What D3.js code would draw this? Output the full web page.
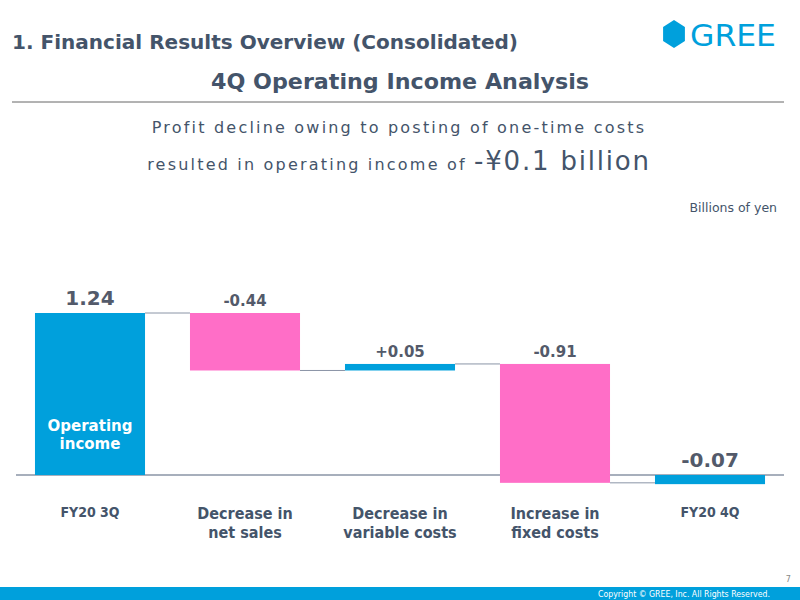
<!DOCTYPE html>
<html>
<head>
<meta charset="utf-8">
<script src="https://cdn.jsdelivr.net/npm/d3@7"></script>
<style>
  body { margin: 0; background: #fff; }
  svg { display: block; }
</style>
</head>
<body>
<svg id="chart" width="800" height="600"></svg>
<script>
// ===== Chart data =====
var categories = ["FY20 3Q", "Decrease in\nnet sales", "Decrease in\nvariable costs", "Increase in\nfixed costs", "FY20 4Q"];
var values = [1.24, -0.44, 0.05, -0.91, -0.07];
var kinds = ["total", "delta", "delta", "delta", "total"];
var valueLabels = ["1.24", "-0.44", "+0.05", "-0.91", "-0.07"];
// ======================

var textColor = "#44546a";
var blue = "#00a0dc";
var pink = "#ff6ec7";

var svg = d3.select("#chart");

// Header
svg.append("text")
  .attr("x", 12).attr("y", 49)
  .attr("font-family", "DejaVu Sans")
  .attr("font-weight", "bold").attr("font-size", 20)
  .attr("fill", textColor)
  .attr("textLength", 506).attr("lengthAdjust", "spacingAndGlyphs")
  .text("1. Financial Results Overview (Consolidated)");

svg.append("text")
  .attr("x", 400).attr("y", 89)
  .attr("text-anchor", "middle")
  .attr("font-family", "DejaVu Sans")
  .attr("font-weight", "bold").attr("font-size", 22)
  .attr("fill", textColor)
  .attr("textLength", 378).attr("lengthAdjust", "spacingAndGlyphs")
  .text("4Q Operating Income Analysis");

svg.append("line")
  .attr("x1", 12).attr("x2", 784).attr("y1", 102).attr("y2", 102)
  .attr("stroke", "#666").attr("stroke-width", 1);

// GREE logo
var hx = 674, hy = 34, hr = 14;
var hex = d3.range(6).map(function(i) {
  var a = Math.PI / 3 * i - Math.PI / 2;
  return [hx + hr * 0.9 * Math.cos(a), hy + hr * Math.sin(a)];
});
svg.append("polygon")
  .attr("points", hex.map(function(p) { return p.join(","); }).join(" "))
  .attr("fill", blue);
svg.append("text")
  .attr("x", 690).attr("y", 46)
  .attr("font-family", "DejaVu Sans Condensed, DejaVu Sans")
  .attr("font-size", 30).attr("fill", blue)
  .attr("textLength", 86).attr("lengthAdjust", "spacingAndGlyphs")
  .text("GREE");

// Subtitle
svg.append("text")
  .attr("x", 399).attr("y", 133)
  .attr("text-anchor", "middle")
  .attr("font-family", "DejaVu Sans")
  .attr("font-size", 16).attr("letter-spacing", 2.2)
  .attr("fill", textColor)
  .text("Profit decline owing to posting of one-time costs");

var sub2 = svg.append("text")
  .attr("x", 399).attr("y", 170)
  .attr("text-anchor", "middle")
  .attr("font-family", "DejaVu Sans")
  .attr("fill", textColor);
sub2.append("tspan").attr("font-size", 16).attr("letter-spacing", 2.2)
  .text("resulted in operating income of ");
sub2.append("tspan").attr("font-size", 26).attr("letter-spacing", 1.8)
  .text("-¥0.1 billion");

svg.append("text")
  .attr("x", 777).attr("y", 212)
  .attr("text-anchor", "end")
  .attr("font-family", "DejaVu Sans")
  .attr("font-size", 12.5).attr("fill", textColor)
  .text("Billions of yen");

// Scales
var x = d3.scaleBand()
  .domain(categories)
  .range([12.5, 787.5])
  .paddingInner(0.29)
  .paddingOuter(0.145);

var y = d3.scaleLinear()
  .domain([0, 1.24])
  .range([475, 313]);

// Waterfall steps
var bars = [];
var cum = 0;
for (var i = 0; i < values.length; i++)
{
  var start, end;
  if (kinds[i] == "total")
  {
    start = 0;
    end = values[i];
    if (i == 0) cum = values[i];
  }
  else
  {
    start = cum;
    end = cum + values[i];
    cum = end;
  }
  bars.push({ cat: categories[i], start: start, end: end, v: values[i],
              label: valueLabels[i], kind: kinds[i] });
}

// Baseline
svg.append("line")
  .attr("x1", 16).attr("x2", 784)
  .attr("y1", y(0)).attr("y2", y(0))
  .attr("stroke", "#8a94a6").attr("stroke-width", 1.5);

// Connectors
for (var i = 0; i < bars.length - 1; i++)
{
  var lvl = bars[i].end;
  svg.append("line")
    .attr("x1", x(bars[i].cat) + x.bandwidth())
    .attr("x2", x(bars[i + 1].cat))
    .attr("y1", y(lvl)).attr("y2", y(lvl))
    .attr("stroke", "#8a94a6").attr("stroke-width", 1);
}

// Bars
svg.selectAll("rect.bar")
  .data(bars)
  .enter().append("rect")
  .attr("class", "bar")
  .attr("x", function(d) { return x(d.cat); })
  .attr("width", x.bandwidth())
  .attr("y", function(d) { return y(Math.max(d.start, d.end)); })
  .attr("height", function(d) { return Math.abs(y(d.start) - y(d.end)); })
  .attr("fill", function(d) { return d.kind == "total" || d.v > 0 ? blue : pink; });

// Value labels
svg.selectAll("text.val")
  .data(bars)
  .enter().append("text")
  .attr("class", "val")
  .attr("x", function(d) { return x(d.cat) + x.bandwidth() / 2; })
  .attr("y", function(d) { return y(Math.max(d.start, d.end)) - (d.kind == "total" ? 8 : 7); })
  .attr("text-anchor", "middle")
  .attr("font-family", "DejaVu Sans")
  .attr("font-weight", "bold")
  .attr("font-size", function(d) { return d.kind == "total" ? 20 : 15; })
  .attr("fill", "#535a6a")
  .text(function(d) { return d.label; });

// Label inside first bar
var cx0 = x(categories[0]) + x.bandwidth() / 2;
var inner = svg.append("text")
  .attr("text-anchor", "middle")
  .attr("font-family", "DejaVu Sans")
  .attr("font-weight", "bold").attr("font-size", 15)
  .attr("fill", "#fff");
inner.append("tspan").attr("x", cx0).attr("y", 431).text("Operating");
inner.append("tspan").attr("x", cx0).attr("y", 449).text("income");

// Category labels
categories.forEach(function(c, i) {
  var lines = c.split("\n");
  var t = svg.append("text")
    .attr("text-anchor", "middle")
    .attr("font-family", "DejaVu Sans Condensed, DejaVu Sans")
    .attr("font-weight", "bold")
    .attr("font-size", kinds[i] == "total" ? 14 : 16)
    .attr("fill", textColor);
  lines.forEach(function(l, j) {
    t.append("tspan")
      .attr("x", x(c) + x.bandwidth() / 2)
      .attr("y", (kinds[i] == "total" ? 517 : 519) + j * 19)
      .text(l);
  });
});

// Footer
svg.append("text")
  .attr("x", 791).attr("y", 582)
  .attr("text-anchor", "end")
  .attr("font-family", "DejaVu Sans Condensed, DejaVu Sans")
  .attr("font-size", 9).attr("fill", "#888")
  .text("7");

svg.append("rect")
  .attr("x", 0).attr("y", 587).attr("width", 800).attr("height", 13)
  .attr("fill", blue);

svg.append("text")
  .attr("x", 770).attr("y", 597)
  .attr("text-anchor", "end")
  .attr("font-family", "DejaVu Sans Condensed, DejaVu Sans")
  .attr("font-size", 8.7).attr("fill", "#fff")
  .text("Copyright © GREE, Inc. All Rights Reserved.");
</script>
</body>
</html>
